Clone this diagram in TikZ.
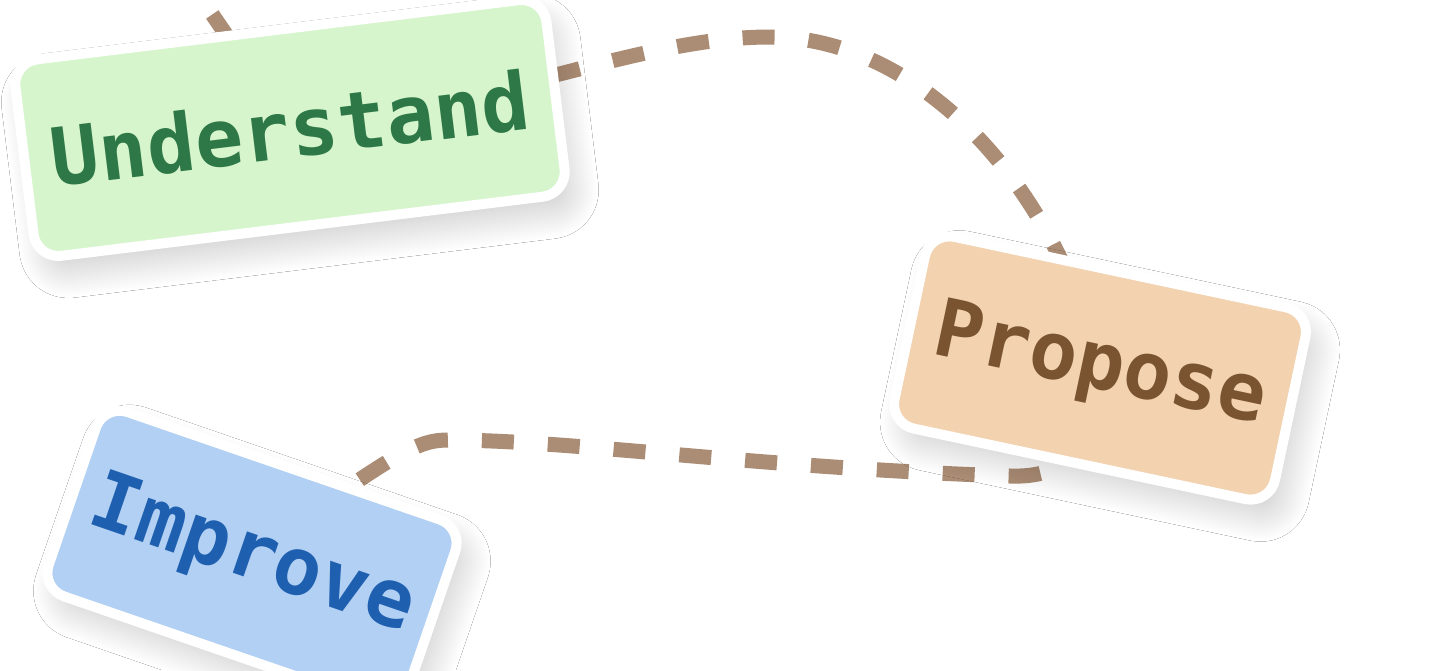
\documentclass[tikz,border=0pt]{standalone}
\usepackage{fontspec}
\newfontfamily\labelfont{DejaVu Sans Mono}
\usetikzlibrary{shadows.blur}
\pgfdeclarelayer{bg}
\pgfsetlayers{bg,main}
\definecolor{dashbrown}{HTML}{AB8C74}
\definecolor{ufill}{HTML}{D6F5CC}
\definecolor{utext}{HTML}{2E7847}
\definecolor{pfill}{HTML}{F3D2B0}
\definecolor{ptext}{HTML}{7A5430}
\definecolor{ifill}{HTML}{B1D0F3}
\definecolor{itext}{HTML}{1F5FAF}
\begin{document}
\begin{tikzpicture}[x=1pt,y=-1pt,
  card/.style={rectangle, rounded corners=25pt, draw=white, line width=10pt,
    font=\labelfont\bfseries\fontsize{80}{96}\selectfont,
    blur shadow={shadow xshift=10pt, shadow yshift=-18pt, shadow blur radius=24pt,
      shadow blur steps=24, shadow opacity=18}},
  link/.style={draw=dashbrown, line width=15pt, dash pattern=on 32pt off 34pt}]
\useasboundingbox (0,0) rectangle (1435,670);

\node[card, fill=ufill, text=utext, minimum width=535pt, minimum height=198pt, rotate=7] (u) at (290,128) {Understand};
\node[card, fill=pfill, text=ptext, minimum width=389pt, minimum height=196pt, rotate=-12] (p) at (1100,368) {Propose};
\node[card, fill=ifill, text=itext, minimum width=380pt, minimum height=195pt, rotate=-19] (i) at (252,558) {Improve};

\begin{pgfonlayer}{bg}
\fill[white] (0,0) rectangle (1435,670);
\coordinate (top) at (175,-40);
\coordinate (k1) at (770,37);
\coordinate (k2) at (1010,476);
\coordinate (k3) at (448,440);
\coordinate (bot) at (240,720);
\draw[link] (top) -- (u.center);
\draw[link] (u.center) .. controls (500,105) and (640,37) .. (k1)
  .. controls (910,37) and (1050,170) .. (p.center);
\draw[link] (p.center) .. controls (1100,450) and (1065,478) .. (k2)
  .. controls (760,468) and (570,440) .. (k3)
  .. controls (420,440) and (395,450) .. (i.center);
\draw[link] (i.center) -- (bot);
\end{pgfonlayer}
\end{tikzpicture}
\end{document}
